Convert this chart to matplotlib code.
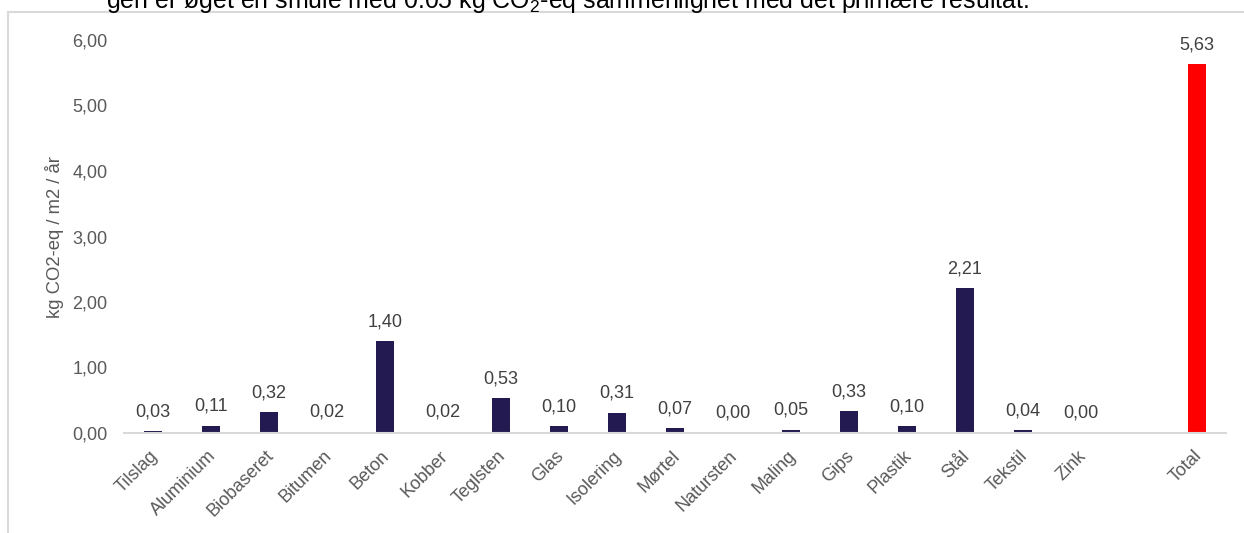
import matplotlib
matplotlib.use("Agg")
import matplotlib.pyplot as plt
from matplotlib.patches import Rectangle
from matplotlib.transforms import ScaledTranslation

plt.rcParams['font.family'] = ['Liberation Sans', 'DejaVu Sans']
plt.rcParams['mathtext.fontset'] = 'custom'
plt.rcParams['mathtext.rm'] = 'Liberation Sans'
plt.rcParams['mathtext.it'] = 'Liberation Sans:italic'

categories = ["Tilslag", "Aluminium", "Biobaseret", "Bitumen", "Beton", "Kobber",
              "Teglsten", "Glas", "Isolering", "Mørtel", "Natursten", "Maling",
              "Gips", "Plastik", "Stål", "Tekstil", "Zink"]
values = [0.03, 0.11, 0.32, 0.02, 1.40, 0.02, 0.53, 0.10, 0.31, 0.07, 0.00,
          0.05, 0.33, 0.10, 2.21, 0.04, 0.00]
total_label = "Total"
total_value = 5.63
y_ticks = [0, 1, 2, 3, 4, 5, 6]

navy = "#221A50"
red = "#FF0000"
grey_txt = "#595959"
grey_line = "#D9D9D9"
fs = 13

W, H = 1244, 533
fig = plt.figure(figsize=(W / 100, H / 100), dpi=100)

# outer chart frame (runs off the right and bottom edges)
fig.patches.append(Rectangle((8 / W, -0.1), 1.2, (H - 12) / H + 0.1,
                             transform=fig.transFigure, fill=False,
                             edgecolor=grey_line, linewidth=1.5))

# caption text partly cut off at the top
fig.text(106 / W, 1 - 8 / H,
         "gen er øget en smule med 0.05 kg CO$_2$-eq sammenlignet med det primære resultat.",
         fontsize=17.9, color="black", ha="left", va="baseline")

ax = fig.add_axes([124 / W, (H - 433) / H, 1102 / W, 393 / H])

x_main = list(range(len(categories)))
x_total = len(categories) + 1
ax.bar(x_main, values, width=0.31, color=navy)
ax.bar([x_total], [total_value], width=0.31, color=red)

all_x = x_main + [x_total]
all_v = values + [total_value]
for xi, v in zip(all_x, all_v):
    ax.annotate(f"{v:.2f}".replace(".", ","), (xi, v), xytext=(0, 10.8),
                textcoords="offset points", ha="center", va="baseline",
                fontsize=fs, color="#404040")

ax.set_xlim(-0.5, x_total + 0.5)
ax.set_ylim(0, 6)
ax.set_yticks(y_ticks)
ax.set_yticklabels([f"{t:.2f}".replace(".", ",") for t in y_ticks],
                   fontsize=fs, color=grey_txt)
ax.set_xticks(all_x)
ax.set_xticklabels(categories + [total_label], rotation=45, ha="right",
                   rotation_mode="anchor", fontsize=fs, color=grey_txt)
ax.tick_params(axis="both", length=0)
ax.tick_params(axis="y", pad=12)
ax.tick_params(axis="x", pad=6)

# nudge the slanted category labels down and to the left
shift = ScaledTranslation(-4 / 100, -6 / 100, fig.dpi_scale_trans)
for lbl in ax.get_xticklabels():
    lbl.set_transform(lbl.get_transform() + shift)

for side in ("top", "right", "left"):
    ax.spines[side].set_visible(False)
ax.spines["bottom"].set_color(grey_line)
ax.spines["bottom"].set_linewidth(1.5)

fig.text(55 / W, 1 - 237 / H, "kg CO2-eq / m2 / år", rotation=90,
         ha="center", va="center", fontsize=13.3, color=grey_txt)

fig.savefig("out.png", dpi=100)
